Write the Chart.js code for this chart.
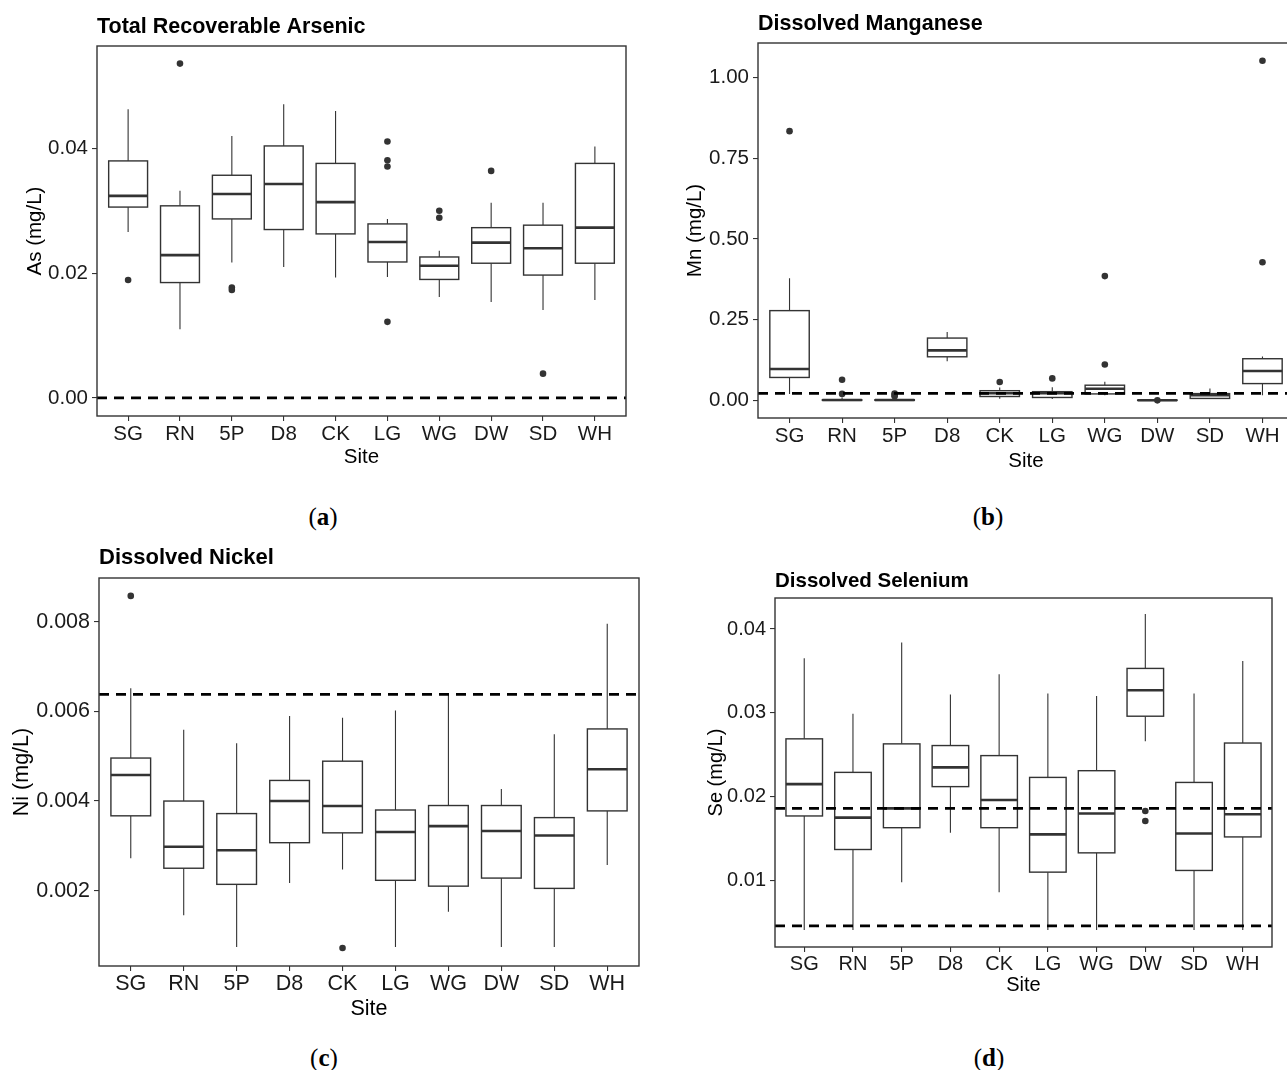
<!DOCTYPE html>
<html>
<head>
<meta charset="utf-8">
<script src="https://cdn.jsdelivr.net/npm/chart.js@4.4.1/dist/chart.umd.min.js"></script>
<style>
  body { margin: 0; width: 1287px; height: 1070px; overflow: hidden; background: #fff; position: relative; }
  canvas { position: absolute; }
  .cap { position: absolute; width: 80px; margin-left: -40px; text-align: center; font-family: "Liberation Serif", "Times New Roman", serif; font-size: 25px; color: #000; line-height: 1; }
</style>
</head>
<body>
<canvas id="chartA" width="645" height="490" style="left:0;top:0"></canvas>
<canvas id="chartB" width="660" height="490" style="left:645px;top:0"></canvas>
<canvas id="chartC" width="645" height="500" style="left:0;top:535px"></canvas>
<canvas id="chartD" width="642" height="480" style="left:645px;top:535px"></canvas>
<div class="cap" style="left:323px;top:504px">(<b>a</b>)</div>
<div class="cap" style="left:988px;top:504px">(<b>b</b>)</div>
<div class="cap" style="left:324px;top:1045px">(<b>c</b>)</div>
<div class="cap" style="left:989px;top:1045px">(<b>d</b>)</div>
<script>
// Сайти відбору проб
const sites = ['SG', 'RN', '5P', 'D8', 'CK', 'LG', 'WG', 'DW', 'SD', 'WH'];

// (a) Total Recoverable Arsenic
const asLow  = [0.0266, 0.0110, 0.0217, 0.0210, 0.0193, 0.0194, 0.0162, 0.0154, 0.0141, 0.0157];
const asQ1   = [0.0306, 0.0185, 0.0287, 0.0270, 0.0263, 0.0218, 0.0190, 0.0216, 0.0197, 0.0216];
const asMed  = [0.0324, 0.0229, 0.0327, 0.0343, 0.0314, 0.0250, 0.0212, 0.0249, 0.0240, 0.0273];
const asQ3   = [0.0380, 0.0308, 0.0357, 0.0404, 0.0376, 0.0279, 0.0226, 0.0273, 0.0277, 0.0376];
const asHigh = [0.0463, 0.0332, 0.0420, 0.0471, 0.0460, 0.0287, 0.0236, 0.0313, 0.0313, 0.0403];
const asOutSite = ['SG', 'RN', '5P', '5P', 'LG', 'LG', 'LG', 'LG', 'WG', 'WG', 'DW', 'SD'];
const asOutVal  = [0.0189, 0.0536, 0.0177, 0.0173, 0.0411, 0.0381, 0.0371, 0.0122, 0.0300, 0.0289, 0.0364, 0.0039];
const asLimits = [0];
const asTicks = [0, 0.02, 0.04];

// (b) Dissolved Manganese
const mnLow  = [0.020, 0.000, 0.000, 0.121, 0.005, 0.004, 0.016, 0.000, 0.004, 0.016];
const mnQ1   = [0.071, 0.000, 0.000, 0.135, 0.012, 0.009, 0.020, 0.000, 0.006, 0.052];
const mnMed  = [0.097, 0.001, 0.001, 0.155, 0.022, 0.022, 0.036, 0.0005, 0.016, 0.091];
const mnQ3   = [0.278, 0.002, 0.002, 0.193, 0.030, 0.027, 0.047, 0.001, 0.021, 0.129];
const mnHigh = [0.378, 0.009, 0.004, 0.212, 0.040, 0.041, 0.058, 0.002, 0.037, 0.136];
const mnOutSite = ['SG', 'RN', 'RN', '5P', '5P', '5P', 'CK', 'LG', 'WG', 'WG', 'DW', 'WH', 'WH'];
const mnOutVal  = [0.834, 0.064, 0.020, 0.021, 0.017, 0.013, 0.057, 0.068, 0.385, 0.111, 0.000, 1.052, 0.428];
const mnLimits = [0.0216];
const mnTicks = [0, 0.25, 0.5, 0.75, 1.0];

// (c) Dissolved Nickel
const niLow  = [0.00272, 0.00145, 0.00074, 0.00217, 0.00247, 0.00074, 0.00153, 0.00074, 0.00074, 0.00257];
const niQ1   = [0.00367, 0.00250, 0.00214, 0.00307, 0.00329, 0.00223, 0.00210, 0.00228, 0.00205, 0.00378];
const niMed  = [0.00458, 0.00298, 0.00290, 0.00400, 0.00389, 0.00331, 0.00344, 0.00333, 0.00323, 0.00471];
const niQ3   = [0.00496, 0.00400, 0.00372, 0.00446, 0.00489, 0.00380, 0.00390, 0.00390, 0.00363, 0.00561];
const niHigh = [0.00652, 0.00559, 0.00529, 0.00590, 0.00586, 0.00602, 0.00638, 0.00427, 0.00549, 0.00796];
const niOutSite = ['SG', 'CK'];
const niOutVal  = [0.00858, 0.00072];
const niLimits = [0.00638];
const niTicks = [0.002, 0.004, 0.006, 0.008];

// (d) Dissolved Selenium
const seLow  = [0.0041, 0.0041, 0.0098, 0.0157, 0.0086, 0.0041, 0.0041, 0.0266, 0.0041, 0.0041];
const seQ1   = [0.0177, 0.0137, 0.0163, 0.0212, 0.0163, 0.0110, 0.0133, 0.0296, 0.0112, 0.0152];
const seMed  = [0.0215, 0.0175, 0.0186, 0.0235, 0.0196, 0.0155, 0.0180, 0.0327, 0.0156, 0.0179];
const seQ3   = [0.0269, 0.0229, 0.0263, 0.0261, 0.0249, 0.0223, 0.0231, 0.0353, 0.0217, 0.0264];
const seHigh = [0.0365, 0.0299, 0.0384, 0.0322, 0.0346, 0.0323, 0.0320, 0.0418, 0.0323, 0.0362];
const seOutSite = ['DW', 'DW'];
const seOutVal  = [0.0183, 0.0171];
const seLimits = [0.0186, 0.00458];
const seTicks = [0.01, 0.02, 0.03, 0.04];

const FONT = '"Liberation Sans", Arial, sans-serif';
const INK = '#333333';

// Малюємо бокси (вуса, коробка, медіана) через шкали Chart.js
const boxPlugin = {
    id: 'boxes',
    beforeDatasetsDraw(chart, args, opts) {
        const { ctx, chartArea, scales: { x, y } } = chart;
        const st = opts.stats;
        ctx.save();
        ctx.beginPath();
        ctx.rect(chartArea.left, chartArea.top, chartArea.width, chartArea.height);
        ctx.clip();
        sites.forEach((s, i) => {
            const cx = x.getPixelForValue(i + 1);
            const half = x.getPixelForValue(i + 1.375) - cx;
            const pLo = y.getPixelForValue(st.low[i]);
            const pQ1 = y.getPixelForValue(st.q1[i]);
            const pMed = y.getPixelForValue(st.med[i]);
            const pQ3 = y.getPixelForValue(st.q3[i]);
            const pHi = y.getPixelForValue(st.high[i]);

            ctx.strokeStyle = INK;
            ctx.lineWidth = 1.1;
            ctx.beginPath();
            ctx.moveTo(cx, pHi); ctx.lineTo(cx, pQ3);
            ctx.moveTo(cx, pQ1); ctx.lineTo(cx, pLo);
            ctx.stroke();

            ctx.fillStyle = '#fff';
            ctx.fillRect(cx - half, pQ3, half * 2, pQ1 - pQ3);
            ctx.lineWidth = 1.4;
            ctx.strokeRect(cx - half, pQ3, half * 2, pQ1 - pQ3);

            ctx.lineWidth = 2.6;
            ctx.beginPath();
            ctx.moveTo(cx - half, pMed); ctx.lineTo(cx + half, pMed);
            ctx.stroke();
        });
        ctx.restore();
    },
    afterDraw(chart, args, opts) {
        const { ctx, chartArea } = chart;
        ctx.save();
        ctx.strokeStyle = INK;
        ctx.lineWidth = 1.4;
        ctx.strokeRect(chartArea.left, chartArea.top, chartArea.width, chartArea.height);
        ctx.fillStyle = '#000';
        ctx.font = `bold ${opts.titleSize}px ${FONT}`;
        ctx.textAlign = 'left';
        ctx.textBaseline = 'middle';
        ctx.fillText(opts.title, chartArea.left, opts.titleY);
        ctx.restore();
    }
};

function makePanel(id, p) {
    const canvas = document.getElementById(id);
    const W = canvas.width, H = canvas.height;
    const lh = p.font * 1.2;

    const outliers = p.outSite.map((s, k) => ({ x: sites.indexOf(s) + 1, y: p.outVal[k] }));
    const limitSets = p.limits.map(v => ({
        type: 'line',
        data: [{ x: 0.4, y: v }, { x: 10.6, y: v }],
        borderColor: '#000',
        borderWidth: 2.8,
        borderDash: [10, 7],
        pointRadius: 0,
        order: 0
    }));

    return new Chart(canvas.getContext('2d'), {
        type: 'scatter',
        plugins: [boxPlugin],
        data: {
            datasets: [
                ...limitSets,
                {
                    data: outliers,
                    pointRadius: 3.3,
                    backgroundColor: INK,
                    borderWidth: 0,
                    order: 1
                }
            ]
        },
        options: {
            responsive: false,
            animation: false,
            events: [],
            layout: { padding: { left: 0, top: p.T, right: W - p.R, bottom: 0 } },
            plugins: {
                legend: { display: false },
                tooltip: { enabled: false },
                boxes: {
                    stats: p.stats,
                    title: p.title,
                    titleSize: p.titleSize,
                    titleY: p.titleY
                }
            },
            scales: {
                x: {
                    type: 'linear',
                    min: 0.4,
                    max: 10.6,
                    afterFit: s => { s.height = H - p.B; },
                    afterBuildTicks: s => { s.ticks = sites.map((n, i) => ({ value: i + 1 })); },
                    border: { display: false },
                    grid: { drawOnChartArea: false, drawTicks: true, tickLength: 5, color: INK, lineWidth: 1.1 },
                    ticks: {
                        autoSkip: false,
                        maxRotation: 0,
                        padding: Math.max(0, p.xLabelGap - 5 - lh / 2),
                        color: '#1a1a1a',
                        font: { family: FONT, size: p.font },
                        callback: v => sites[Math.round(v) - 1]
                    },
                    title: {
                        display: true,
                        text: 'Site',
                        color: '#000',
                        font: { family: FONT, size: p.font },
                        padding: { top: 0, bottom: H - p.B - p.siteGap - lh / 2 }
                    }
                },
                y: {
                    type: 'linear',
                    min: p.yMin,
                    max: p.yMax,
                    afterFit: s => { s.width = p.L; },
                    afterBuildTicks: s => { s.ticks = p.ticks.map(v => ({ value: v })); },
                    border: { display: false },
                    grid: { drawOnChartArea: false, drawTicks: true, tickLength: 5, color: INK, lineWidth: 1.1 },
                    ticks: {
                        padding: 4,
                        color: '#1a1a1a',
                        font: { family: FONT, size: p.font },
                        callback: v => v.toFixed(p.decimals)
                    },
                    title: {
                        display: true,
                        text: p.yTitle,
                        color: '#000',
                        font: { family: FONT, size: p.font },
                        padding: { top: p.yTitleX - lh / 2, bottom: 0 }
                    }
                }
            }
        }
    });
}

makePanel('chartA', {
    title: 'Total Recoverable Arsenic', titleSize: 21.5, titleY: 27,
    L: 97, T: 46, R: 626, B: 416, font: 20.5, xLabelGap: 18, siteGap: 41, yTitleX: 35,
    yTitle: 'As (mg/L)', yMin: -0.00289, yMax: 0.05642, ticks: asTicks, decimals: 2,
    stats: { low: asLow, q1: asQ1, med: asMed, q3: asQ3, high: asHigh },
    outSite: asOutSite, outVal: asOutVal, limits: asLimits
});

makePanel('chartB', {
    title: 'Dissolved Manganese', titleSize: 21.5, titleY: 24,
    L: 113, T: 43, R: 649, B: 418, font: 20.5, xLabelGap: 18, siteGap: 43, yTitleX: 50,
    yTitle: 'Mn (mg/L)', yMin: -0.0546, yMax: 1.107, ticks: mnTicks, decimals: 2,
    stats: { low: mnLow, q1: mnQ1, med: mnMed, q3: mnQ3, high: mnHigh },
    outSite: mnOutSite, outVal: mnOutVal, limits: mnLimits
});

makePanel('chartC', {
    title: 'Dissolved Nickel', titleSize: 22, titleY: 22.5,
    L: 99, T: 43, R: 639, B: 431, font: 21.5, xLabelGap: 18, siteGap: 42.6, yTitleX: 22.4,
    yTitle: 'Ni (mg/L)', yMin: 0.000317, yMax: 0.00898, ticks: niTicks, decimals: 3,
    stats: { low: niLow, q1: niQ1, med: niMed, q3: niQ3, high: niHigh },
    outSite: niOutSite, outVal: niOutVal, limits: niLimits
});

makePanel('chartD', {
    title: 'Dissolved Selenium', titleSize: 20.5, titleY: 46,
    L: 130, T: 63, R: 627, B: 412, font: 20, xLabelGap: 16.5, siteGap: 38, yTitleX: 71,
    yTitle: 'Se (mg/L)', yMin: 0.00207, yMax: 0.0437, ticks: seTicks, decimals: 2,
    stats: { low: seLow, q1: seQ1, med: seMed, q3: seQ3, high: seHigh },
    outSite: seOutSite, outVal: seOutVal, limits: seLimits
});
</script>
</body>
</html>
